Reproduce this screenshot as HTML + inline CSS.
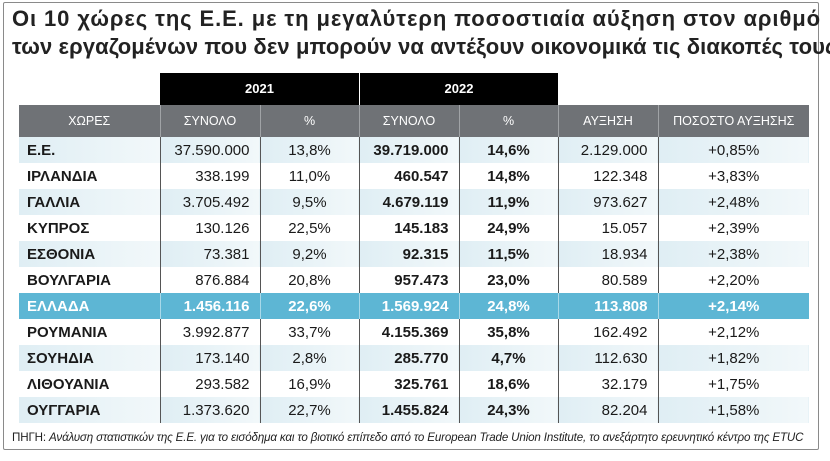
<!DOCTYPE html>
<html><head><meta charset="utf-8">
<style>
html,body{margin:0;padding:0;background:#fff;}
body{width:830px;height:461px;position:relative;overflow:hidden;font-family:"Liberation Sans","DejaVu Sans",sans-serif;color:#1a1a1a;}
#frame{position:absolute;left:3px;top:2px;width:814px;height:446px;border:1.5px solid #8a8a8a;border-radius:2px;}
#title{position:absolute;left:12px;top:5px;font-size:22px;font-weight:bold;line-height:28px;color:#222;letter-spacing:0.1px;white-space:nowrap;}
#t1{letter-spacing:0.9px;}
.yr{position:absolute;top:73px;height:32px;background:#000;color:#fff;font-size:13px;font-weight:bold;text-align:center;line-height:32px;}
table{position:absolute;left:19px;top:105px;border-collapse:collapse;table-layout:fixed;}
td,th{height:26px;padding:0 10px;font-size:15px;white-space:nowrap;border-left:1px solid #555;}
th{height:32px;background:#6f7276;color:#fff;font-weight:normal;font-size:12.5px;text-align:center;border-left:1px solid #a0a3a6;}
th:first-child,td:first-child{border-left:none;}
td:first-child{font-weight:bold;text-align:left;padding-left:8px;}
.r{text-align:right;}.c{text-align:center;}.b{font-weight:bold;}
tr.t td{background:linear-gradient(90deg,#dfeef4,#f2f8fa);}
tr.gr td{background:#5db6d4;color:#fff;font-weight:bold;border-left-color:#a9d9e9;}
#src{position:absolute;left:12px;top:431px;font-size:11.6px;color:#222;white-space:nowrap;letter-spacing:-0.15px;}
</style></head><body>
<div id="frame"></div>
<div id="title"><span id="t1">Οι 10 χώρες της Ε.Ε. με τη μεγαλύτερη ποσοστιαία αύξηση στον αριθμό</span><br>των εργαζομένων που δεν μπορούν να αντέξουν οικονομικά τις διακοπές τους</div>
<div class="yr" style="left:160px;width:199px">2021</div>
<div class="yr" style="left:360px;width:198px">2022</div>
<table>
<colgroup><col style="width:141px"><col style="width:100px"><col style="width:99px"><col style="width:100px"><col style="width:99px"><col style="width:100px"><col style="width:151px"></colgroup>
<tr><th>ΧΩΡΕΣ</th><th>ΣΥΝΟΛΟ</th><th>%</th><th>ΣΥΝΟΛΟ</th><th>%</th><th>ΑΥΞΗΣΗ</th><th>ΠΟΣΟΣΤΟ ΑΥΞΗΣΗΣ</th></tr>
<tr class="t"><td>Ε.Ε.</td><td class="r">37.590.000</td><td class="c">13,8%</td><td class="r b">39.719.000</td><td class="c b">14,6%</td><td class="r">2.129.000</td><td class="c">+0,85%</td></tr>
<tr><td>ΙΡΛΑΝΔΙΑ</td><td class="r">338.199</td><td class="c">11,0%</td><td class="r b">460.547</td><td class="c b">14,8%</td><td class="r">122.348</td><td class="c">+3,83%</td></tr>
<tr class="t"><td>ΓΑΛΛΙΑ</td><td class="r">3.705.492</td><td class="c">9,5%</td><td class="r b">4.679.119</td><td class="c b">11,9%</td><td class="r">973.627</td><td class="c">+2,48%</td></tr>
<tr><td>ΚΥΠΡΟΣ</td><td class="r">130.126</td><td class="c">22,5%</td><td class="r b">145.183</td><td class="c b">24,9%</td><td class="r">15.057</td><td class="c">+2,39%</td></tr>
<tr class="t"><td>ΕΣΘΟΝΙΑ</td><td class="r">73.381</td><td class="c">9,2%</td><td class="r b">92.315</td><td class="c b">11,5%</td><td class="r">18.934</td><td class="c">+2,38%</td></tr>
<tr><td>ΒΟΥΛΓΑΡΙΑ</td><td class="r">876.884</td><td class="c">20,8%</td><td class="r b">957.473</td><td class="c b">23,0%</td><td class="r">80.589</td><td class="c">+2,20%</td></tr>
<tr class="gr"><td>ΕΛΛΑΔΑ</td><td class="r">1.456.116</td><td class="c">22,6%</td><td class="r">1.569.924</td><td class="c">24,8%</td><td class="r">113.808</td><td class="c">+2,14%</td></tr>
<tr><td>ΡΟΥΜΑΝΙΑ</td><td class="r">3.992.877</td><td class="c">33,7%</td><td class="r b">4.155.369</td><td class="c b">35,8%</td><td class="r">162.492</td><td class="c">+2,12%</td></tr>
<tr class="t"><td>ΣΟΥΗΔΙΑ</td><td class="r">173.140</td><td class="c">2,8%</td><td class="r b">285.770</td><td class="c b">4,7%</td><td class="r">112.630</td><td class="c">+1,82%</td></tr>
<tr><td>ΛΙΘΟΥΑΝΙΑ</td><td class="r">293.582</td><td class="c">16,9%</td><td class="r b">325.761</td><td class="c b">18,6%</td><td class="r">32.179</td><td class="c">+1,75%</td></tr>
<tr class="t"><td>ΟΥΓΓΑΡΙΑ</td><td class="r">1.373.620</td><td class="c">22,7%</td><td class="r b">1.455.824</td><td class="c b">24,3%</td><td class="r">82.204</td><td class="c">+1,58%</td></tr>
</table>
<div id="src">ΠΗΓΗ: <i>Ανάλυση στατιστικών της Ε.Ε. για το εισόδημα και το βιοτικό επίπεδο από το European Trade Union Institute, το ανεξάρτητο ερευνητικό κέντρο της ETUC</i></div>
</body></html>
